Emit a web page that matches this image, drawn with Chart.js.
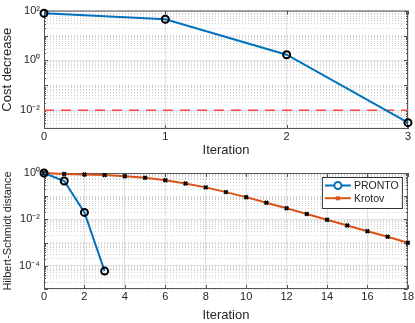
<!DOCTYPE html>
<html>
<head>
<meta charset="utf-8">
<script src="https://cdn.jsdelivr.net/npm/chart.js@4"></script>
<style>
  body { margin: 0; background: #fff; }
  canvas { position: absolute; left: 0; }
  #cost_chart { top: 0; }
  #hs_chart { top: 160px; }
</style>
</head>
<body>
<canvas id="cost_chart" width="415" height="160"></canvas>
<canvas id="hs_chart" width="415" height="163"></canvas>
<script>
// top plot: cost decrease per iteration (PRONTO)
const costIter = [0, 1, 2, 3];
const costDecrease = [78, 45, 1.7, 0.0032];
const tolerance = 0.01;

// bottom plot: Hilbert-Schmidt distance
const prontoIter = [0, 1, 2, 3];
const prontoDist = [1, 0.45, 0.02, 0.000059];
const krotovIter = [0, 1, 2, 3, 4, 5, 6, 7, 8, 9, 10, 11, 12, 13, 14, 15, 16, 17, 18];
const krotovDist = [1, 0.9, 0.87, 0.81, 0.73, 0.62, 0.49, 0.355, 0.24, 0.15, 0.091, 0.052, 0.030, 0.017, 0.0096, 0.0055, 0.0031, 0.0018, 0.00098];

const costTicks = [2, 0, -2];   // labelled decades
const hsTicks = [0, -2, -4];

const blue = '#0072BD';
const orange = '#D95319';
const textColor = '#262626';
const supers = { '-': '⁻', '0': '⁰', '1': '¹', '2': '²', '3': '³', '4': '⁴', '5': '⁵' };

Chart.defaults.font.family = '"Liberation Sans", Arial, sans-serif';
Chart.defaults.color = textColor;

const toXY = (xs, ys) => xs.map((x, i) => ({ x: x, y: ys[i] }));

const expOf = (v) => Math.round(Math.log10(v));
const isPow = (v) => Math.abs(Math.log10(v) - expOf(v)) < 1e-9;

// log ticks 1..9 x 10^n inside [min, max]
const logTicks = (scale) => {
  const out = [];
  const lo = Math.floor(Math.log10(scale.min));
  const hi = Math.ceil(Math.log10(scale.max));
  for (let e = lo; e <= hi; e++) {
    for (let m = 1; m <= 9; m++) {
      const v = m * Math.pow(10, e);
      if (v >= scale.min * 0.9999 && v <= scale.max * 1.0001) out.push({ value: v });
    }
  }
  scale.ticks = out;
};

const makeY = (min, max, labelled, title, titleSize, titlePad) => ({
  type: 'logarithmic',
  min: min,
  max: max,
  afterBuildTicks: logTicks,
  afterFit: (s) => { s.width = 44; },
  ticks: {
    autoSkip: false,
    padding: 4,
    font: { size: 11 },
    callback: (v) => {
      if (!isPow(v) || !labelled.includes(expOf(v))) return '';
      return '10' + String(expOf(v)).split('').map(c => supers[c]).join('');
    }
  },
  grid: {
    drawTicks: false,
    color: (ctx) => (ctx.tick && isPow(ctx.tick.value) && labelled.includes(expOf(ctx.tick.value))) ? '#e1e1e1' : '#d0d0d0',
    lineWidth: 1
  },
  border: {
    display: false,
    dash: (ctx) => (ctx.tick && !(isPow(ctx.tick.value) && labelled.includes(expOf(ctx.tick.value)))) ? [1, 2] : []
  },
  title: { display: true, text: title, font: { size: titleSize }, padding: { top: titlePad, bottom: 0 } }
});

const makeX = (max, step, height, titlePad) => ({
  type: 'linear',
  min: 0,
  max: max,
  afterFit: (s) => { s.height = height; },
  ticks: { stepSize: step, padding: 1, font: { size: 11 }, maxRotation: 0 },
  grid: { drawTicks: false, color: '#e1e1e1' },
  border: { display: false },
  title: { display: true, text: 'Iteration', font: { size: 13 }, padding: { top: 0, bottom: titlePad } }
});

// matlab style box with inward ticks
const boxTicks = {
  id: 'boxTicks',
  beforeDatasetsDraw(chart) {
    const { ctx, chartArea: a, scales: { x, y } } = chart;
    ctx.save();
    ctx.strokeStyle = '#555';
    ctx.lineWidth = 1;
    ctx.setLineDash([]);
    ctx.strokeRect(a.left + 0.5, a.top + 0.5, a.right - a.left - 1, a.bottom - a.top - 1);
    ctx.beginPath();
    for (const t of x.ticks) {
      const px = Math.round(x.getPixelForValue(t.value)) + 0.5;
      ctx.moveTo(px, a.bottom); ctx.lineTo(px, a.bottom - 4);
      ctx.moveTo(px, a.top); ctx.lineTo(px, a.top + 4);
    }
    for (const t of y.ticks) {
      const py = Math.round(y.getPixelForValue(t.value)) + 0.5;
      const len = isPow(t.value) ? 4 : 2;
      ctx.moveTo(a.left, py); ctx.lineTo(a.left + len, py);
      ctx.moveTo(a.right, py); ctx.lineTo(a.right - len, py);
    }
    ctx.stroke();
    ctx.restore();
  }
};

// legend box in the upper right corner of the plot
const cornerLegend = {
  id: 'cornerLegend',
  afterDraw(chart) {
    const { ctx, chartArea: a } = chart;
    const w = 80, h = 31;
    const x0 = a.right - 6 - w, y0 = a.top + 4;
    ctx.save();
    ctx.fillStyle = '#fff';
    ctx.fillRect(x0, y0, w, h);
    ctx.strokeStyle = '#333';
    ctx.lineWidth = 1;
    ctx.strokeRect(x0 + 0.5, y0 + 0.5, w, h);
    chart.data.datasets.forEach((ds, i) => {
      const yy = y0 + 8.5 + i * 12.7;
      ctx.strokeStyle = ds.borderColor;
      ctx.lineWidth = ds.borderWidth;
      ctx.beginPath();
      ctx.moveTo(x0 + 3, yy); ctx.lineTo(x0 + 29, yy);
      ctx.stroke();
      Chart.helpers.drawPoint(ctx, {
        pointStyle: ds.pointStyle, radius: ds.pointRadius, borderWidth: ds.pointBorderWidth
      }, x0 + 16, yy);
      ctx.fillStyle = textColor;
      ctx.font = '10.5px "Liberation Sans", Arial, sans-serif';
      ctx.textBaseline = 'middle';
      ctx.fillText(ds.label, x0 + 32, yy + 0.5);
    });
    ctx.restore();
  }
};

const drawCost = () => {
  const ctx = document.getElementById('cost_chart');
  new Chart(ctx, {
    type: 'line',
    data: {
      datasets: [{
        label: 'Cost decrease',
        data: toXY(costIter, costDecrease),
        borderColor: blue,
        borderWidth: 2,
        pointStyle: 'circle',
        pointRadius: 3.5,
        pointBorderWidth: 2,
        pointBorderColor: '#000',
        pointBackgroundColor: 'rgba(0,0,0,0)',
        tension: 0
      }, {
        label: 'Tolerance',
        data: toXY([costIter[0], costIter[costIter.length - 1]], [tolerance, tolerance]),
        borderColor: 'rgb(245,70,70)',
        borderWidth: 1.5,
        borderDash: [10, 7],
        pointRadius: 0,
        order: 2
      }]
    },
    options: {
      responsive: false,
      animation: false,
      clip: false,
      layout: { padding: { top: 6, right: 7, left: 0, bottom: 0 } },
      plugins: { legend: { display: false }, tooltip: { enabled: false } },
      scales: {
        x: makeX(3, 1, 31, 2),
        y: makeY(Math.pow(10, -2.75), 100, costTicks, 'Cost decrease', 13, 0)
      }
    },
    plugins: [boxTicks]
  });
};

const drawDistance = () => {
  const ctx = document.getElementById('hs_chart');
  new Chart(ctx, {
    type: 'line',
    data: {
      datasets: [{
        label: 'PRONTO',
        data: toXY(prontoIter, prontoDist),
        borderColor: blue,
        borderWidth: 2,
        pointStyle: 'circle',
        pointRadius: 3.5,
        pointBorderWidth: 2,
        pointBorderColor: '#000',
        pointBackgroundColor: 'rgba(0,0,0,0)',
        tension: 0
      }, {
        label: 'Krotov',
        data: toXY(krotovIter, krotovDist),
        borderColor: orange,
        borderWidth: 2,
        pointStyle: 'crossRot',
        pointRadius: 2.5,
        pointBorderWidth: 2,
        pointBorderColor: '#000',
        pointBackgroundColor: '#000',
        tension: 0
      }]
    },
    options: {
      responsive: false,
      animation: false,
      clip: false,
      layout: { padding: { top: 13, right: 7, left: 0, bottom: 0 } },
      plugins: { legend: { display: false }, tooltip: { enabled: false } },
      scales: {
        x: makeX(18, 2, 34, 0),
        y: makeY(1e-5, 1, hsTicks, 'Hilbert-Schmidt distance', 11, 1.5)
      }
    },
    plugins: [boxTicks, cornerLegend]
  });
};

drawCost();
drawDistance();
</script>
</body>
</html>
